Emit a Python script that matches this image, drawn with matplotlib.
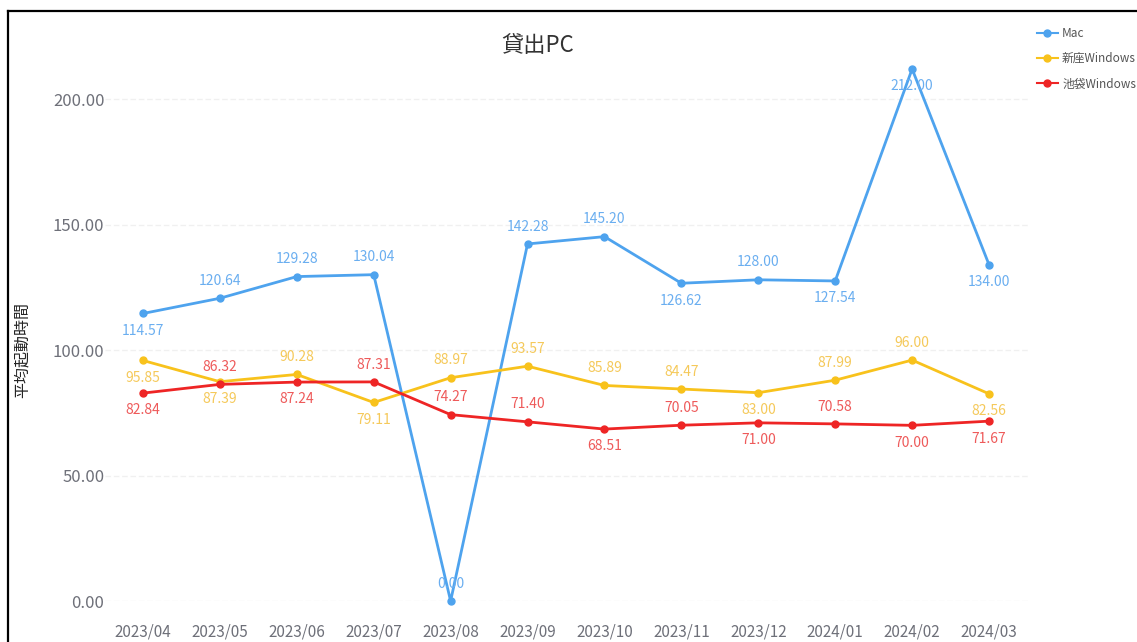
import matplotlib.pyplot as plt
from matplotlib.lines import Line2D

plt.rcParams['font.family'] = ['Noto Sans CJK JP', 'DejaVu Sans']

# Data
months = ['2023/04', '2023/05', '2023/06', '2023/07', '2023/08', '2023/09',
          '2023/10', '2023/11', '2023/12', '2024/01', '2024/02', '2024/03']
mac = [114.57, 120.64, 129.28, 130.04, 0.00, 142.28,
       145.20, 126.62, 128.00, 127.54, 212.00, 134.00]
niiza = [95.85, 87.39, 90.28, 79.11, 88.97, 93.57,
         85.89, 84.47, 83.00, 87.99, 96.00, 82.56]
ikebukuro = [82.84, 86.32, 87.24, 87.31, 74.27, 71.40,
             68.51, 70.05, 71.00, 70.58, 70.00, 71.67]
yticks = [0, 50, 100, 150, 200]

# label above (+1) or below (-1) each point
mac_pos = [-1, 1, 1, 1, 1, 1, 1, -1, 1, -1, -1, -1]
niiza_pos = [-1, -1, 1, -1, 1, 1, 1, 1, -1, 1, 1, -1]
ike_pos = [-1, 1, -1, 1, 1, 1, -1, 1, -1, 1, -1, -1]

series = [
    ('Mac', mac, mac_pos, '#4ea3ee', '#6aaef0'),
    ('新座Windows', niiza, niiza_pos, '#f8c21c', '#f5c95a'),
    ('池袋Windows', ikebukuro, ike_pos, '#ee2525', '#ee5a5a'),
]

fig = plt.figure(figsize=(11.37, 6.42), dpi=100)
ax = fig.add_axes([104.5 / 1137, 41 / 642, 923 / 1137, 532 / 642])

x = list(range(len(months)))
handles = []
for name, vals, pos, color, lcolor in series:
    ax.plot(x, vals, color=color, lw=2, marker='o', ms=5, clip_on=False, zorder=3)
    for xi, v, p in zip(x, vals, pos):
        ax.annotate(f'{v:.2f}', (xi, v), xytext=(0, 12.5 * p), textcoords='offset points',
                    ha='center', va='center', fontsize=10, color=lcolor,
                    annotation_clip=False, zorder=4)
    handles.append(Line2D([], [], color=color, lw=1.5, marker='o', ms=5, label=name))

ax.set_xlim(-0.5, len(months) - 0.5)
ax.set_ylim(0, 212)
ax.set_xticks(x)
ax.set_xticklabels(months)
ax.set_yticks(yticks)
ax.set_yticklabels([f'{t:.2f}' for t in yticks])
ax.tick_params(axis='x', length=0, pad=16, labelsize=11, labelcolor='#6e7079')
ax.tick_params(axis='y', length=0, pad=0, labelsize=12, labelcolor='#6e7079')
ax.grid(axis='y', color='#f0f0f0', lw=1, ls=(0, (4, 2)))
for s in ax.spines.values():
    s.set_visible(False)

fig.text(22 / 1137, 1 - 350 / 642, '平均起動時間', rotation=90, ha='center', va='center',
         fontsize=11.5, color='#222222')
fig.text(538 / 1137, 1 - 45 / 642, '貸出PC', ha='center', va='center', fontsize=16, color='#333333')
fig.legend(handles=handles, loc='upper left', bbox_to_anchor=(1032 / 1137, 1 - 22 / 642),
           frameon=False, fontsize=8.5, labelcolor='#555555', handlelength=1.8,
           handletextpad=0.35, labelspacing=1.05, borderaxespad=0)

# screenshot border
fig.add_artist(Line2D([8 / 1137, 8 / 1137], [0, 1 - 11 / 642], color='black', lw=1.6))
fig.add_artist(Line2D([8 / 1137, 1], [1 - 11 / 642, 1 - 11 / 642], color='black', lw=1.6))

fig.savefig('out.png', dpi=100)
